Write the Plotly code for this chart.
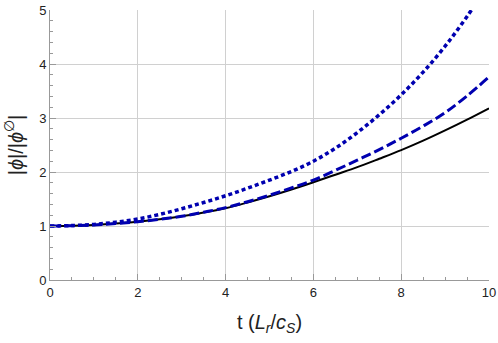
import plotly.graph_objects as go

# time in units of L_r / c_S
t = [0, 0.5, 1, 1.5, 2, 2.5, 3, 3.5, 4, 4.5, 5,
     5.5, 6, 6.5, 7, 7.5, 8, 8.5, 9, 9.5, 10]

# |phi| / |phi_0| for the three cases
solid = [1.0, 1.005, 1.02, 1.045, 1.08, 1.125, 1.18, 1.25, 1.33, 1.435, 1.55,
         1.675, 1.81, 1.95, 2.09, 2.245, 2.405, 2.58, 2.77, 2.97, 3.18]
dashed = [1.0, 1.005, 1.02, 1.045, 1.08, 1.125, 1.18, 1.255, 1.34, 1.45, 1.57,
          1.705, 1.85, 2.03, 2.22, 2.415, 2.625, 2.85, 3.10, 3.41, 3.76]
dotted = [1.0, 1.008, 1.03, 1.07, 1.13, 1.215, 1.32, 1.435, 1.56, 1.70, 1.85,
          2.01, 2.20, 2.44, 2.73, 3.06, 3.43, 3.85, 4.33, 4.88, 5.50]

blue = "#0000b0"

fig = go.Figure()
fig.add_trace(go.Scatter(x=t, y=solid, mode="lines", line_shape="spline",
                         line=dict(color="black", width=2)))
fig.add_trace(go.Scatter(x=t, y=dashed, mode="lines", line_shape="spline",
                         line=dict(color=blue, width=3, dash="10px,4px")))
fig.add_trace(go.Scatter(x=t, y=dotted, mode="lines", line_shape="spline",
                         line=dict(color=blue, width=3.5, dash="4px,3px")))

axis_style = dict(
    showline=True, linecolor="#999999", linewidth=1,
    showgrid=True, gridcolor="#d0d0d0", gridwidth=1,
    zeroline=False, mirror=False, automargin=False,
    ticks="inside", ticklen=6, tickcolor="#999999",
    tickfont=dict(family="Liberation Sans, Arial", size=13, color="#222222"),
    minor=dict(ticks="inside", ticklen=3, tickcolor="#999999", showgrid=False),
)

fig.update_xaxes(range=[0, 10], tickvals=[0, 2, 4, 6, 8, 10],
                 minor_dtick=0.5,
                 title=dict(text="t (<i>L<sub>r</sub></i>/<i>c<sub>S</sub></i>)",
                            font=dict(family="Liberation Sans, Arial", size=20, color="#222222"),
                            standoff=16),
                 **axis_style)
fig.update_yaxes(range=[0, 5], tickvals=[0, 1, 2, 3, 4, 5],
                 minor_dtick=0.2,
                 title=dict(text="|<i>ϕ</i>|/|<i>ϕ</i><sup>∅</sup>|",
                            font=dict(family="Liberation Sans, Arial", size=20, color="#222222"),
                            standoff=10),
                 **axis_style)

fig.update_layout(
    width=498, height=343,
    margin=dict(l=50, r=9, t=10, b=63),
    plot_bgcolor="white", paper_bgcolor="white",
    showlegend=False,
)

# drop the default page margin so the figure sits at the window's corner
fig.write_html("out.html", config={"displayModeBar": False},
               post_script="document.body.style.margin='0';")
